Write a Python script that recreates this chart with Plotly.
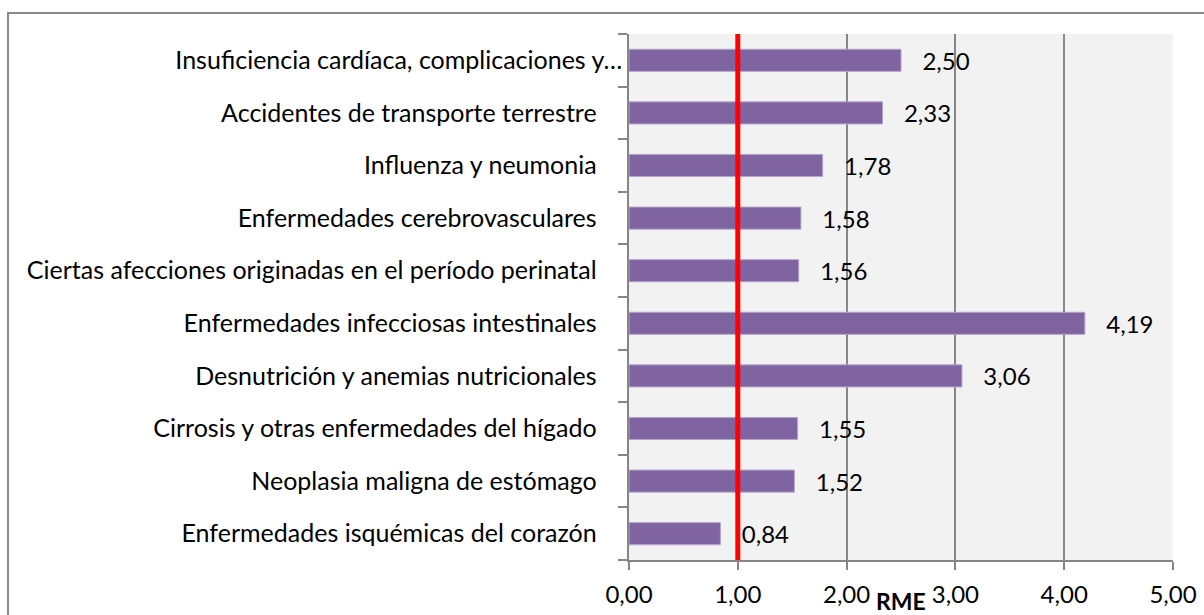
import plotly.graph_objects as go

categories = [
    "Enfermedades isquémicas del corazón",
    "Neoplasia maligna de estómago",
    "Cirrosis y otras enfermedades del hígado",
    "Desnutrición y anemias nutricionales",
    "Enfermedades infecciosas intestinales",
    "Ciertas afecciones originadas en el período perinatal",
    "Enfermedades cerebrovasculares",
    "Influenza y neumonia",
    "Accidentes de transporte terrestre",
    "Insuficiencia cardíaca, complicaciones y…",
]
rme_values = [0.84, 1.52, 1.55, 3.06, 4.19, 1.56, 1.58, 1.78, 2.33, 2.50]
reference_value = 1.0
x_ticks = [0, 1, 2, 3, 4, 5]

# labels not truncated carry trailing spaces in the original chart
tick_text = [c if c.endswith("…") else c + "\u00a0" * 4 for c in categories]

W, H = 1204, 615
ml, mr, mt, mb = 629, 31, 34, 55
pw, ph = W - ml - mr, H - mt - mb

font_family = "Lato, 'Open Sans', sans-serif"

fig = go.Figure()
fig.add_trace(go.Bar(
    y=categories,
    x=rme_values,
    orientation="h",
    marker=dict(color="#8064A2", line=dict(color="#B4A5CB", width=1)),
    width=0.42,
    text=rme_values,
    texttemplate="\u00a0\u00a0\u00a0%{x:.2f}",
    textposition="outside",
    constraintext="none",
    textfont=dict(family=font_family, size=24, color="#000000"),
    cliponaxis=False,
    hoverinfo="x+y",
))

# reference line at RME = 1
fig.add_shape(type="line", xref="x", yref="paper",
              x0=reference_value, x1=reference_value, y0=0, y1=1,
              line=dict(color="#FF0000", width=5), layer="above")

# outer chart border
fig.add_shape(type="rect", xref="paper", yref="paper",
              x0=(8 - ml) / pw, x1=(1230 - ml) / pw,
              y0=(H - mb - 650) / ph, y1=(H - mb - 13) / ph,
              line=dict(color="#898989", width=2), fillcolor="rgba(0,0,0,0)",
              layer="below")

fig.add_annotation(text="<b>RME</b>", xref="paper", yref="paper",
                   x=(901 - ml) / pw, y=(H - mb - 601) / ph,
                   showarrow=False, xanchor="center", yanchor="middle",
                   borderpad=0,
                   font=dict(family=font_family, size=23, color="#000000"))

fig.update_layout(
    width=W, height=H,
    margin=dict(l=ml, r=mr, t=mt, b=mb, autoexpand=False),
    paper_bgcolor="#FFFFFF",
    plot_bgcolor="#F2F2F2",
    separators=",.",
    showlegend=False,
    font=dict(family=font_family, size=24, color="#000000"),
    xaxis=dict(
        range=[0, 5], tickvals=x_ticks, tickformat=".2f",
        automargin=False,
        showgrid=True, gridcolor="#868686", gridwidth=1.5,
        showline=True, linecolor="#868686", linewidth=1.5,
        ticks="outside", ticklen=8, tickcolor="#868686", tickwidth=1.5,
        ticklabelstandoff=4,
        zeroline=False,
        tickfont=dict(family=font_family, size=24, color="#000000"),
    ),
    yaxis=dict(
        type="category",
        categoryorder="array", categoryarray=categories,
        tickvals=categories, ticktext=tick_text,
        automargin=False,
        showline=True, linecolor="#868686", linewidth=1.5,
        ticks="outside", ticklen=9, tickcolor="#868686", tickwidth=1.5,
        tickson="boundaries",
        showgrid=False,
        ticklabelstandoff=0,
        tickfont=dict(family=font_family, size=25, color="#000000"),
    ),
)

fig.write_html("out.html", config={"displayModeBar": False},
               post_script="document.body.style.margin='0';")
